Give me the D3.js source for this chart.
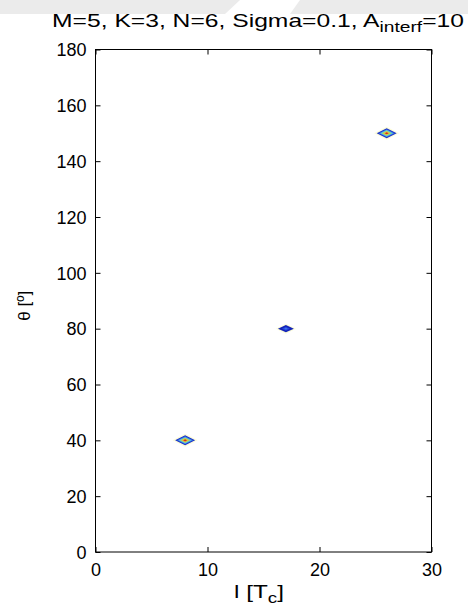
<!DOCTYPE html>
<html><head><meta charset="utf-8">
<script src="https://cdn.jsdelivr.net/npm/d3@7/dist/d3.min.js"></script>
<style>
body{margin:0;background:#fff;}
text{font-family:"Liberation Sans",Arial,sans-serif;fill:#000;}
</style></head>
<body><svg id="c" width="468" height="608"></svg>
<script>
const xs = [8, 17, 26];
const ys = [40, 80, 150];
const peakLevels = [5, 2, 5];
const xTicks = [0, 10, 20, 30];
const yTicks = [0, 20, 40, 60, 80, 100, 120, 140, 160, 180];
const xDomain = [0, 30];
const yDomain = [0, 180];

const W = 468, H = 608;
const m = {l: 95.5, r: 431.5, t: 49.5, b: 552};
const svg = d3.select("#c");
svg.append("rect").attr("width", W).attr("height", H).attr("fill", "#fff");
// faint grey band at top (scan artefact)
svg.append("path").attr("d", "M0,0 L240,0 L225,14 L0,14 Z").attr("fill", "#ebebeb");
svg.append("path").attr("d", "M300,0 L468,0 L468,14 L290,14 Z").attr("fill", "#ebebeb");

const x = d3.scaleLinear().domain(xDomain).range([m.l, m.r]);
const y = d3.scaleLinear().domain(yDomain).range([m.b, m.t]);

// contour markers
const ringColors = ["#fbfbc8", "#1a2fc8", "#3a78e6", "#58c8e0", "#a8d860", "#e8c040", "#d03020"];
const ringW = [12.5, 10, 8, 6.5, 5, 3.5, 2];
const ringH = [6.5, 5, 4, 3.2, 2.5, 1.8, 1.1];
const g = svg.append("g");
xs.forEach((xv, i) => {
  const cx = x(xv), cy = y(ys[i]);
  const n = peakLevels[i] + 2;
  for (let k = 0; k < n; k++) {
    let w = ringW[k], h = ringH[k];
    let col = ringColors[k];
    if (peakLevels[i] === 2) {
      if (k === 0) { w = 10; h = 5; }
      if (k === 1) { w = 8; h = 3.6; col = "#1424b8"; }
      if (k === 2) { w = 4; h = 1.8; col = "#2848e0"; }
      if (k === 3) { w = 1.8; h = 0.9; col = "#3a78e6"; }
    }
    g.append("path")
      .attr("d", `M${cx - w},${cy} L${cx},${cy - h} L${cx + w},${cy} L${cx},${cy + h} Z`)
      .attr("fill", col)
      .attr("opacity", k === 0 ? 0.7 : 1);
  }
});

// box
svg.append("rect").attr("x", m.l).attr("y", m.t).attr("width", m.r - m.l).attr("height", m.b - m.t)
  .attr("fill", "none").attr("stroke", "#000").attr("stroke-width", 1);

const fs = 18;
const ax = svg.append("g").attr("transform", `translate(0,${m.b})`)
  .call(d3.axisBottom(x).tickValues(xTicks).tickSize(-5).tickPadding(11).tickFormat(d3.format("d")));
const axT = svg.append("g").attr("transform", `translate(0,${m.t})`)
  .call(d3.axisTop(x).tickValues(xTicks).tickSize(-5).tickFormat(""));
const ay = svg.append("g").attr("transform", `translate(${m.l},0)`)
  .call(d3.axisLeft(y).tickValues(yTicks).tickSize(-5).tickPadding(9).tickFormat(d3.format("d")));
const ayR = svg.append("g").attr("transform", `translate(${m.r},0)`)
  .call(d3.axisRight(y).tickValues(yTicks).tickSize(-5).tickFormat(""));
[ax, axT, ay, ayR].forEach(a => {
  a.select(".domain").remove();
  a.selectAll("line").attr("stroke", "#000");
  a.selectAll("text").attr("font-size", fs).attr("font-family", '"Liberation Sans",Arial,sans-serif')
    .attr("fill", "#2a2a2a");
});
ay.selectAll("text").attr("dy", "0.35em");

// title (stretched horizontally like reference)
const tg = svg.append("g").attr("transform", "translate(258,27) scale(1.37,1)");
const t = tg.append("text").attr("x", 0).attr("y", 0).attr("text-anchor", "middle")
  .attr("font-size", fs).attr("fill", "#2a2a2a");
t.append("tspan").text("M=5, K=3, N=6, Sigma=0.1, A");
t.append("tspan").attr("font-size", 14).attr("dy", 5).text("interf");
t.append("tspan").attr("dy", -5).text("=10");

// x label
const xg = svg.append("g").attr("transform", "translate(259,598) scale(1.35,1)");
const xl = xg.append("text").attr("x", 0).attr("y", 0).attr("text-anchor", "middle").attr("font-size", fs).attr("fill", "#2a2a2a");
xl.append("tspan").text("l [T");
xl.append("tspan").attr("font-size", 14).attr("dy", 5).text("c");
xl.append("tspan").attr("dy", -5).text("]");

// y label
svg.append("text").attr("transform", `translate(30,${(m.t + m.b) / 2 + 5}) rotate(-90)`)
  .attr("text-anchor", "middle").attr("font-size", 17).attr("fill", "#2a2a2a").text("θ [º]");
</script></body></html>
